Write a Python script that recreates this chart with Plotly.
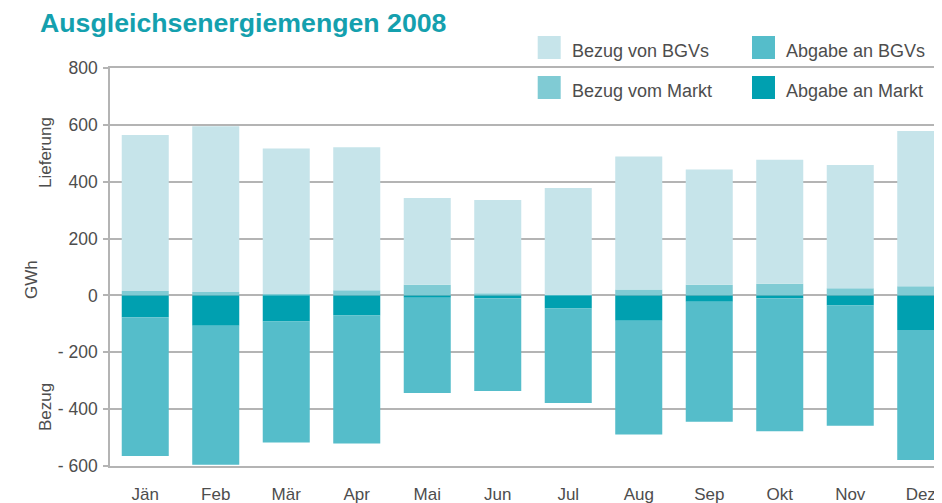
import plotly.graph_objects as go

months = ["Jän", "Feb", "Mär", "Apr", "Mai", "Jun", "Jul", "Aug", "Sep", "Okt", "Nov", "Dez"]
bezug_markt = [16, 12, 5, 18, 38, 8, 1, 21, 38, 41, 25, 32]
bezug_bgv = [548, 583, 512, 503, 305, 328, 377, 468, 405, 436, 434, 546]
abgabe_markt = [-77, -107, -92, -71, -8, -10, -46, -89, -22, -10, -35, -122]
abgabe_bgv = [-488, -489, -425, -450, -335, -326, -332, -400, -422, -468, -423, -457]
y_tick_vals = [800, 600, 400, 200, 0, -200, -400, -600]
y_tick_text = ["800", "600", "400", "200", "0", "- 200", "- 400", "- 600"]

C_BEZ_BGV = "#c6e4ea"
C_BEZ_MARKT = "#80cbd4"
C_ABG_BGV = "#55bdca"
C_ABG_MARKT = "#00a0b0"
TITLE_COL = "#14a0ae"
TXT = "#4d4d4d"
GRID = "#b4b4b4"
FONT = "Liberation Sans, Arial, sans-serif"

# page body has an 8px margin: work in reference pixel coords, shift by OFF
OFF = 8
W, H = 942 - OFF, 503 - OFF
L, R, T = 110 - OFF, 0, 68 - OFF
B = H - (466 - OFF)
PW, PH = W - L - R, H - T - B


def px(x):
    return (x - OFF - L) / PW


def py(y):
    return (H - B - (y - OFF)) / PH


fig = go.Figure()
for name, vals, col in [
    ("Bezug vom Markt", bezug_markt, C_BEZ_MARKT),
    ("Bezug von BGVs", bezug_bgv, C_BEZ_BGV),
    ("Abgabe an Markt", abgabe_markt, C_ABG_MARKT),
    ("Abgabe an BGVs", abgabe_bgv, C_ABG_BGV),
]:
    fig.add_trace(go.Bar(x=list(range(len(months))), y=vals, name=name,
                         marker=dict(color=col, line=dict(width=0)),
                         showlegend=False, hoverinfo="name+y"))

n = len(months)
xr = [-0.5, -0.5 + PW / 70.5]
fig.update_layout(
    width=W, height=H,
    margin=dict(l=L, r=R, t=T, b=B, pad=0, autoexpand=False),
    paper_bgcolor="white", plot_bgcolor="white",
    barmode="relative", bargap=0.333,
    font=dict(family=FONT, size=17, color=TXT),
    title=dict(text="<b>Ausgleichsenergiemengen 2008</b>", x=(40 - OFF) / W, xanchor="left",
               xref="container", y=1 - (23 - OFF) / H, yanchor="middle", yref="container",
               font=dict(family=FONT, size=26.7, color=TITLE_COL)),
    xaxis=dict(range=xr, tickmode="array",
               tickvals=list(range(n)), ticktext=months, showgrid=False,
               zeroline=False, showline=True, linecolor=GRID, linewidth=1.5,
               mirror=True, ticks="", ticklabelstandoff=12,
               tickfont=dict(size=17, color=TXT)),
    xaxis2=dict(overlaying="x", anchor="free", position=600 / 1400,
                range=xr, tickmode="array",
                tickvals=[i + 0.5 for i in range(n - 1)], showticklabels=False,
                ticks="outside", ticklen=4, tickcolor="#999999", tickwidth=1.3,
                showline=True, linecolor="#9a9a9a", linewidth=1.5,
                showgrid=False, zeroline=False, layer="above traces"),
    yaxis=dict(range=[-600, 800], tickmode="array", tickvals=y_tick_vals,
               ticktext=y_tick_text, showgrid=True, gridcolor=GRID, gridwidth=1.5,
               zeroline=False, showline=True, linecolor=GRID, linewidth=1.5,
               ticks="outside", ticklen=5, tickcolor=GRID, tickwidth=1.5,
               ticklabelstandoff=2, tickfont=dict(size=17.5, color=TXT)),
)

# legend (2 x 2 grid)
legend_items = [
    ("Bezug von BGVs", C_BEZ_BGV, 537.7, 36),
    ("Abgabe an BGVs", C_ABG_BGV, 752, 36),
    ("Bezug vom Markt", C_BEZ_MARKT, 537.7, 76),
    ("Abgabe an Markt", C_ABG_MARKT, 752, 76),
]
for label, col, x0, y0 in legend_items:
    fig.add_shape(type="rect", xref="paper", yref="paper",
                  x0=px(x0), x1=px(x0 + 23), y0=py(y0), y1=py(y0 + 23),
                  fillcolor=col, line=dict(width=0), layer="above")
    fig.add_annotation(text=label, xref="paper", yref="paper",
                       x=px(x0 + 32), y=py(y0 + 15), xanchor="left", yanchor="middle",
                       showarrow=False, font=dict(size=18, color=TXT))

# axis titles
for label, x, y in [("Lieferung", 45, 153), ("GWh", 31, 280), ("Bezug", 45, 407)]:
    fig.add_annotation(text=label, xref="paper", yref="paper", x=px(x), y=py(y),
                       xanchor="center", yanchor="middle", textangle=-90,
                       showarrow=False, font=dict(size=17, color=TXT))

fig.write_html("out.html")
